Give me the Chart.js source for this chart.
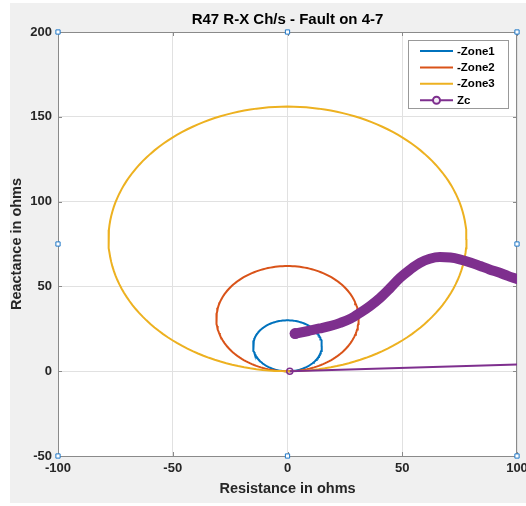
<!DOCTYPE html>
<html>
<head>
<meta charset="utf-8">
<script src="https://cdn.jsdelivr.net/npm/chart.js@4.4.0/dist/chart.umd.min.js"></script>
<style>
  html, body { margin: 0; padding: 0; background: #fff; }
</style>
</head>
<body>
<canvas id="rxChart" width="526" height="506"></canvas>
<script>
// mho zones: circle centre (R, X) and radius, ohms
const zoneNames = ['-Zone1', '-Zone2', '-Zone3'];
const zoneCenterR = [0, 0, 0];
const zoneCenterX = [15, 31, 78];
const zoneRadius = [15, 31, 78];
const zoneColors = ['#0072BD', '#D95319', '#EDB120'];

// apparent impedance seen by R47 during the fault
const zcR = [3.3, 9, 14, 19, 23, 27.5, 31.6, 36, 40.3, 44.7, 49, 53.5, 57.7, 62, 66.4, 71, 75, 80, 84, 88, 92.5, 96, 100];
const zcX = [22.2, 23.7, 25.2, 26.8, 28.5, 31, 34.4, 38.5, 43.2, 49, 55, 60, 63.9, 66.3, 67.3, 67, 66, 64, 62, 60, 58, 56.2, 54.3];
// line from the origin
const loadR = [1, 100];
const loadX = [0, 4];
const zcColor = '#7E2F8E';

const xTicks = [-100, -50, 0, 50, 100];
const yTicks = [-50, 0, 50, 100, 150, 200];

// selection handles of the axes (matlab figure edit mode)
const handleR = [-100, 0, 100, -100, 100, -100, 0, 100];
const handleX = [200, 200, 200, 75, 75, -50, -50, -50];

const FONT = '"Liberation Sans", Arial, sans-serif';
const textColor = '#262626';
const axisColor = '#8a8a8a';

function circlePoints(i) {
  const pts = [];
  for (let a = 0; a <= 360; a += 2) {
    const t = a * Math.PI / 180;
    pts.push({ x: zoneCenterR[i] + zoneRadius[i] * Math.cos(t), y: zoneCenterX[i] + zoneRadius[i] * Math.sin(t) });
  }
  return pts;
}

const zoneSets = zoneNames.map((name, i) => ({
  label: name,
  data: circlePoints(i),
  showLine: true,
  borderColor: zoneColors[i],
  borderWidth: 2,
  pointRadius: 0,
  tension: 0
})).reverse(); // later zones on top, like matlab

const matlabFrame = {
  id: 'matlabFrame',
  beforeDraw(chart) {
    const { ctx, chartArea: a } = chart;
    ctx.save();
    ctx.fillStyle = '#f0f0f0';
    ctx.fillRect(10, 3, 516, 500);
    ctx.fillStyle = '#fff';
    ctx.fillRect(a.left, a.top, a.right - a.left, a.bottom - a.top);
    ctx.restore();
  },
  beforeDatasetsDraw(chart) {
    const { ctx, chartArea: a, scales } = chart;
    ctx.save();
    ctx.strokeStyle = axisColor;
    ctx.lineWidth = 1;
    ctx.beginPath();
    ctx.moveTo(a.left, a.top + 0.5); ctx.lineTo(a.right, a.top + 0.5);
    ctx.moveTo(a.right - 0.5, a.top); ctx.lineTo(a.right - 0.5, a.bottom);
    // inward tick marks
    xTicks.forEach(v => {
      const px = Math.round(scales.x.getPixelForValue(v)) + 0.5;
      ctx.moveTo(px, a.bottom); ctx.lineTo(px, a.bottom - 4);
      ctx.moveTo(px, a.top); ctx.lineTo(px, a.top + 4);
    });
    yTicks.forEach(v => {
      const py = Math.round(scales.y.getPixelForValue(v)) + 0.5;
      ctx.moveTo(a.left, py); ctx.lineTo(a.left + 4, py);
      ctx.moveTo(a.right, py); ctx.lineTo(a.right - 4, py);
    });
    ctx.stroke();
    ctx.restore();
  },
  afterDraw(chart) {
    const ctx = chart.ctx;
    ctx.save();
    // legend box
    ctx.fillStyle = '#fff';
    ctx.strokeStyle = '#999';
    ctx.lineWidth = 1;
    ctx.fillRect(408.5, 40.5, 100, 68);
    ctx.strokeRect(408.5, 40.5, 100, 68);
    const labels = zoneNames.concat(['Zc']);
    const colors = zoneColors.concat([zcColor]);
    ctx.font = 'bold 11.5px ' + FONT;
    ctx.textBaseline = 'middle';
    ctx.textAlign = 'left';
    labels.forEach((lab, i) => {
      const y = 51 + i * 16.4;
      ctx.strokeStyle = colors[i];
      ctx.lineWidth = 2;
      ctx.beginPath();
      ctx.moveTo(420, y); ctx.lineTo(453, y);
      ctx.stroke();
      if (lab === 'Zc') {
        ctx.beginPath();
        ctx.arc(436.5, y, 3.5, 0, Math.PI * 2);
        ctx.fillStyle = '#f4eef5';
        ctx.fill();
        ctx.stroke();
      }
      ctx.fillStyle = '#000';
      ctx.fillText(lab, 457, y + 0.5);
    });
    ctx.restore();
  }
};

new Chart(document.getElementById('rxChart'), {
  type: 'scatter',
  data: {
    datasets: [
      {
        label: 'handles',
        data: handleR.map((r, i) => ({ x: r, y: handleX[i] })),
        pointStyle: 'rect',
        pointRadius: 3,
        pointBorderWidth: 1,
        pointBorderColor: '#1f78c8',
        pointBackgroundColor: '#fff',
        clip: false
      },
      {
        label: 'Zc',
        data: zcR.map((r, i) => ({ x: r, y: zcX[i] })),
        showLine: true,
        borderColor: zcColor,
        borderWidth: 10,
        borderCapStyle: 'round',
        borderJoinStyle: 'round',
        cubicInterpolationMode: 'monotone',
        pointRadius: zcR.map((r, i) => i === 0 ? 5.5 : 0),
        pointBackgroundColor: zcColor,
        pointBorderWidth: 0
      },
      {
        label: 'Zc load',
        data: loadR.map((r, i) => ({ x: r, y: loadX[i] })),
        showLine: true,
        borderColor: zcColor,
        borderWidth: 2,
        pointRadius: [3, 0],
        pointBorderWidth: 1.5,
        pointBorderColor: zcColor,
        pointBackgroundColor: 'rgba(0,0,0,0)'
      },
      ...zoneSets
    ]
  },
  options: {
    responsive: false,
    animation: false,
    devicePixelRatio: 1,
    layout: { padding: { left: 0, right: 9, top: 0, bottom: 0 } },
    plugins: {
      legend: { display: false },
      tooltip: { enabled: false },
      title: {
        display: true,
        fullSize: false,
        text: 'R47 R-X Ch/s - Fault on 4-7',
        color: '#000',
        font: { family: FONT, size: 15, weight: 'bold' },
        padding: { top: 11, bottom: 3 }
      }
    },
    scales: {
      x: {
        type: 'linear',
        min: -100,
        max: 100,
        ticks: { stepSize: 50, color: textColor, font: { family: FONT, size: 13, weight: 'bold' }, padding: 5, maxRotation: 0, autoSkip: false },
        grid: { color: '#e1e1e1', drawTicks: false },
        border: { color: axisColor, width: 1 },
        title: { display: true, text: 'Resistance in ohms', color: textColor, font: { family: FONT, size: 14.5, weight: 'bold' }, padding: { top: 0, bottom: 8.3 } },
        afterFit: s => { s.height = 50; s.paddingLeft = 0; s.paddingRight = 0; }
      },
      y: {
        type: 'linear',
        min: -50,
        max: 200,
        ticks: { stepSize: 50, color: textColor, font: { family: FONT, size: 13, weight: 'bold' }, padding: 6 },
        grid: { color: '#e1e1e1', drawTicks: false },
        border: { color: axisColor, width: 1 },
        title: { display: true, text: 'Reactance in ohms', color: textColor, font: { family: FONT, size: 14.5, weight: 'bold' }, padding: { top: 8.3, bottom: 0 } },
        afterFit: s => { s.width = 58; s.paddingTop = 0; s.paddingBottom = 0; }
      }
    }
  },
  plugins: [matlabFrame]
});
</script>
</body>
</html>
